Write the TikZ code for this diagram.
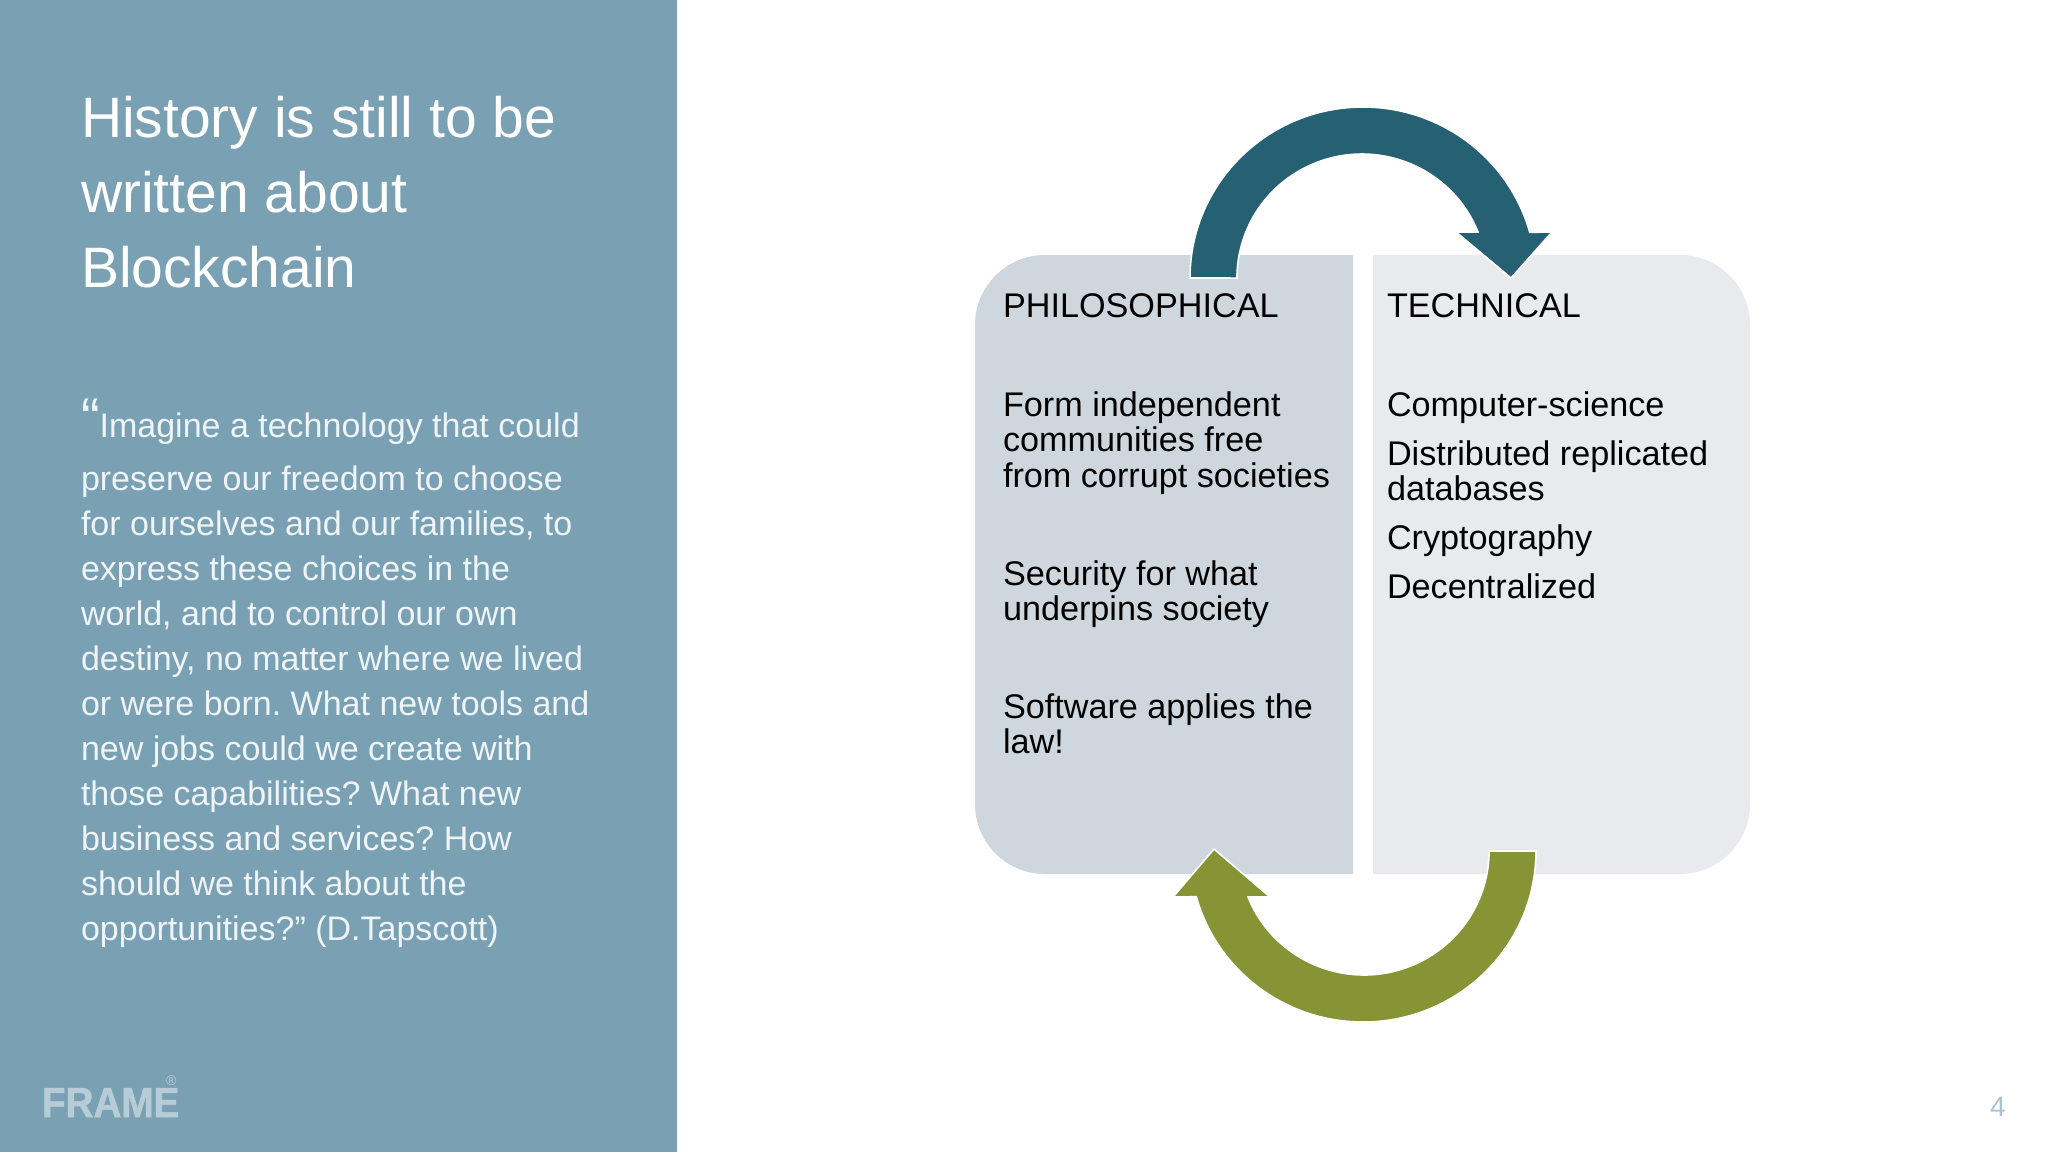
\documentclass[tikz,border=0pt]{standalone}
\usepackage{fontspec}
\setmainfont{Liberation Sans}
\newfontfamily\logofont[BoldFeatures={FakeBold=1.5}]{Liberation Sans}
\definecolor{panel}{HTML}{79A1B3}
\definecolor{boxL}{HTML}{CDD7DD}
\definecolor{boxR}{HTML}{E9EAED}
\definecolor{arrT}{HTML}{266073}
\definecolor{arrB}{HTML}{869435}
\definecolor{logo}{HTML}{B7CCD6}
\definecolor{pageno}{HTML}{A9C4D2}
\definecolor{quote}{HTML}{EEF4F7}
\tikzset{
  lbl/.style={anchor=base west,inner sep=0pt,outer sep=0pt},
  body/.style={lbl,text=black,font=\fontsize{17.1}{17.1}\selectfont\frenchspacing},
  titletext/.style={lbl,text=white,font=\fontsize{28.5}{28.5}\selectfont},
  quotetext/.style={lbl,text=quote,font=\fontsize{17}{17}\selectfont\frenchspacing},
  blockarrow/.style={draw=white,line width=0.8pt,line join=miter}
}
\begin{document}
\begin{tikzpicture}[x=0.5pt,y=-0.5pt]
\useasboundingbox (0,0) rectangle (2048,1152);
\fill[white] (0,0) rectangle (2048,1152);
\fill[panel] (0,0) rectangle (677,1152);
% boxes
\fill[boxL] (1353,255) -- (1353,874) -- (1045,874) arc[start angle=270,end angle=180,radius=35pt] -- (975,325) arc[start angle=180,end angle=90,radius=35pt] -- cycle;
\fill[boxR] (1373,255) -- (1680,255) arc[start angle=90,end angle=0,radius=35pt] -- (1750,804) arc[start angle=0,end angle=-90,radius=35pt] -- (1373,874) -- cycle;
% arrows
\path[blockarrow,fill=arrT] (1190,278) arc[start angle=180,end angle=15.5,x radius=86.5pt,y radius=85.5pt] -- (1552,232) -- (1511,278) -- (1456,232) -- (1478,232) arc[start angle=21.8,end angle=180,x radius=62.5pt,y radius=62pt] -- cycle;
\path[blockarrow,fill=arrB] (1536,851) arc[start angle=0,end angle=-164.5,x radius=86.5pt,y radius=85.5pt] -- (1173,897) -- (1214,849) -- (1270,897) -- (1248,897) arc[start angle=-158.2,end angle=0,x radius=62.5pt,y radius=62pt] -- cycle;
% title
\node[titletext] (t1) at (81,137) {History is still to be};
\node[titletext] (t2) at (81,212) {written about};
\node[titletext] (t3) at (81,287) {Blockchain};
% quote
\node[quotetext] (q1) at (81,437) {{\fontsize{28}{28}\selectfont “}Imagine a technology that could};
\node[quotetext] (q2) at (81,490) {preserve our freedom to choose};
\node[quotetext] (q3) at (81,535) {for ourselves and our families, to};
\node[quotetext] (q4) at (81,580) {express these choices in the};
\node[quotetext] (q5) at (81,625) {world, and to control our own};
\node[quotetext] (q6) at (81,670) {destiny, no matter where we lived};
\node[quotetext] (q7) at (81,715) {or were born. What new tools and};
\node[quotetext] (q8) at (81,760) {new jobs could we create with};
\node[quotetext] (q9) at (81,805) {those capabilities? What new};
\node[quotetext] (q10) at (81,850) {business and services? How};
\node[quotetext] (q11) at (81,895) {should we think about the};
\node[quotetext] (q12) at (81,940) {opportunities?” (D.Tapscott)};
% left box
\node[body] (l0) at (1003,317) {PHILOSOPHICAL};
\node[body] (l1) at (1003,416) {Form independent};
\node[body] (l2) at (1003,451) {communities free};
\node[body] (l3) at (1003,487) {from corrupt societies};
\node[body] (l4) at (1003,585) {Security for what};
\node[body] (l5) at (1003,620) {underpins society};
\node[body] (l6) at (1003,718) {Software applies the};
\node[body] (l7) at (1003,753) {law!};
% right box
\node[body] (r0) at (1387,317) {TECHNICAL};
\node[body] (r1) at (1387,416) {Computer-science};
\node[body] (r2) at (1387,465) {Distributed replicated};
\node[body] (r3) at (1387,500) {databases};
\node[body] (r4) at (1387,549) {Cryptography};
\node[body] (r5) at (1387,598) {Decentralized};
% logo and page number
\node[lbl,text=logo,font=\logofont\fontsize{21}{21}\bfseries\selectfont,xscale=0.92] (logo) at (42,1117) {FRAME};
\node[lbl,text=logo,font=\fontsize{7}{7}\selectfont] (reg) at (166,1085) {®};
\node[lbl,text=pageno,font=\fontsize{14}{14}\selectfont] (page) at (1990,1116) {4};
\end{tikzpicture}
\end{document}
